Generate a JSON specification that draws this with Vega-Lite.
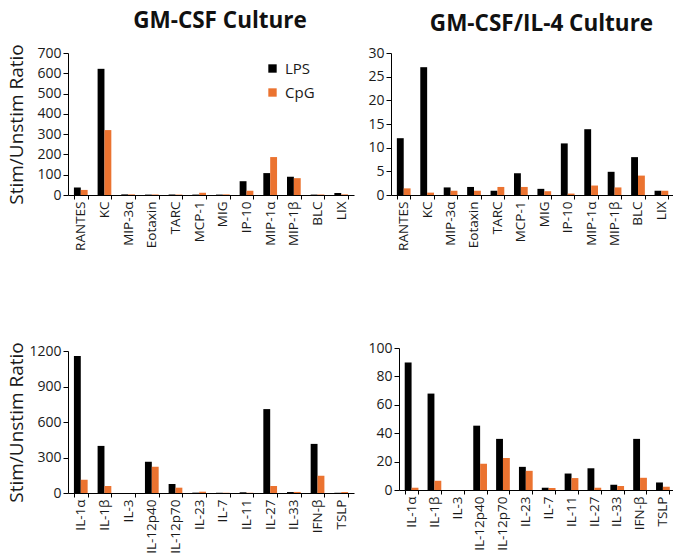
{
  "$schema": "https://vega.github.io/schema/vega-lite/v6.json",
  "background": "white",
  "padding": {"left": 6, "top": 10, "right": 0, "bottom": 0},
  "datasets": {
    "gm_chemo": [
      {"analyte": "RANTES", "stim": "LPS", "value": 37}, {"analyte": "RANTES", "stim": "CpG", "value": 25},
      {"analyte": "KC", "stim": "LPS", "value": 622}, {"analyte": "KC", "stim": "CpG", "value": 320},
      {"analyte": "MIP-3α", "stim": "LPS", "value": 3}, {"analyte": "MIP-3α", "stim": "CpG", "value": 3},
      {"analyte": "Eotaxin", "stim": "LPS", "value": 2}, {"analyte": "Eotaxin", "stim": "CpG", "value": 3},
      {"analyte": "TARC", "stim": "LPS", "value": 2}, {"analyte": "TARC", "stim": "CpG", "value": 2},
      {"analyte": "MCP-1", "stim": "LPS", "value": 2}, {"analyte": "MCP-1", "stim": "CpG", "value": 11},
      {"analyte": "MIG", "stim": "LPS", "value": 2}, {"analyte": "MIG", "stim": "CpG", "value": 3},
      {"analyte": "IP-10", "stim": "LPS", "value": 68}, {"analyte": "IP-10", "stim": "CpG", "value": 21},
      {"analyte": "MIP-1α", "stim": "LPS", "value": 108}, {"analyte": "MIP-1α", "stim": "CpG", "value": 187},
      {"analyte": "MIP-1β", "stim": "LPS", "value": 90}, {"analyte": "MIP-1β", "stim": "CpG", "value": 83},
      {"analyte": "BLC", "stim": "LPS", "value": 2}, {"analyte": "BLC", "stim": "CpG", "value": 2},
      {"analyte": "LIX", "stim": "LPS", "value": 10}, {"analyte": "LIX", "stim": "CpG", "value": 3}
    ],
    "il4_chemo": [
      {"analyte": "RANTES", "stim": "LPS", "value": 12.0}, {"analyte": "RANTES", "stim": "CpG", "value": 1.4},
      {"analyte": "KC", "stim": "LPS", "value": 27.0}, {"analyte": "KC", "stim": "CpG", "value": 0.5},
      {"analyte": "MIP-3α", "stim": "LPS", "value": 1.6}, {"analyte": "MIP-3α", "stim": "CpG", "value": 0.9},
      {"analyte": "Eotaxin", "stim": "LPS", "value": 1.7}, {"analyte": "Eotaxin", "stim": "CpG", "value": 0.9},
      {"analyte": "TARC", "stim": "LPS", "value": 0.9}, {"analyte": "TARC", "stim": "CpG", "value": 1.7},
      {"analyte": "MCP-1", "stim": "LPS", "value": 4.6}, {"analyte": "MCP-1", "stim": "CpG", "value": 1.7},
      {"analyte": "MIG", "stim": "LPS", "value": 1.3}, {"analyte": "MIG", "stim": "CpG", "value": 0.8},
      {"analyte": "IP-10", "stim": "LPS", "value": 10.9}, {"analyte": "IP-10", "stim": "CpG", "value": 0.3},
      {"analyte": "MIP-1α", "stim": "LPS", "value": 13.9}, {"analyte": "MIP-1α", "stim": "CpG", "value": 2.0},
      {"analyte": "MIP-1β", "stim": "LPS", "value": 4.9}, {"analyte": "MIP-1β", "stim": "CpG", "value": 1.6},
      {"analyte": "BLC", "stim": "LPS", "value": 8.0}, {"analyte": "BLC", "stim": "CpG", "value": 4.1},
      {"analyte": "LIX", "stim": "LPS", "value": 0.9}, {"analyte": "LIX", "stim": "CpG", "value": 0.9}
    ],
    "gm_cyto": [
      {"analyte": "IL-1α", "stim": "LPS", "value": 1158}, {"analyte": "IL-1α", "stim": "CpG", "value": 112},
      {"analyte": "IL-1β", "stim": "LPS", "value": 398}, {"analyte": "IL-1β", "stim": "CpG", "value": 59},
      {"analyte": "IL-3", "stim": "LPS", "value": 0}, {"analyte": "IL-3", "stim": "CpG", "value": 0},
      {"analyte": "IL-12p40", "stim": "LPS", "value": 264}, {"analyte": "IL-12p40", "stim": "CpG", "value": 221},
      {"analyte": "IL-12p70", "stim": "LPS", "value": 76}, {"analyte": "IL-12p70", "stim": "CpG", "value": 45},
      {"analyte": "IL-23", "stim": "LPS", "value": 3}, {"analyte": "IL-23", "stim": "CpG", "value": 11},
      {"analyte": "IL-7", "stim": "LPS", "value": 2}, {"analyte": "IL-7", "stim": "CpG", "value": 2},
      {"analyte": "IL-11", "stim": "LPS", "value": 6}, {"analyte": "IL-11", "stim": "CpG", "value": 2},
      {"analyte": "IL-27", "stim": "LPS", "value": 709}, {"analyte": "IL-27", "stim": "CpG", "value": 59},
      {"analyte": "IL-33", "stim": "LPS", "value": 8}, {"analyte": "IL-33", "stim": "CpG", "value": 9},
      {"analyte": "IFN-β", "stim": "LPS", "value": 415}, {"analyte": "IFN-β", "stim": "CpG", "value": 146},
      {"analyte": "TSLP", "stim": "LPS", "value": 2}, {"analyte": "TSLP", "stim": "CpG", "value": 8}
    ],
    "il4_cyto": [
      {"analyte": "IL-1α", "stim": "LPS", "value": 89.8}, {"analyte": "IL-1α", "stim": "CpG", "value": 1.6},
      {"analyte": "IL-1β", "stim": "LPS", "value": 67.9}, {"analyte": "IL-1β", "stim": "CpG", "value": 6.5},
      {"analyte": "IL-3", "stim": "LPS", "value": 0}, {"analyte": "IL-3", "stim": "CpG", "value": 0},
      {"analyte": "IL-12p40", "stim": "LPS", "value": 45.3}, {"analyte": "IL-12p40", "stim": "CpG", "value": 18.4},
      {"analyte": "IL-12p70", "stim": "LPS", "value": 36}, {"analyte": "IL-12p70", "stim": "CpG", "value": 22.6},
      {"analyte": "IL-23", "stim": "LPS", "value": 16.3}, {"analyte": "IL-23", "stim": "CpG", "value": 13.5},
      {"analyte": "IL-7", "stim": "LPS", "value": 1.6}, {"analyte": "IL-7", "stim": "CpG", "value": 1.4},
      {"analyte": "IL-11", "stim": "LPS", "value": 11.6}, {"analyte": "IL-11", "stim": "CpG", "value": 8.4},
      {"analyte": "IL-27", "stim": "LPS", "value": 15.3}, {"analyte": "IL-27", "stim": "CpG", "value": 1.6},
      {"analyte": "IL-33", "stim": "LPS", "value": 3.7}, {"analyte": "IL-33", "stim": "CpG", "value": 2.8},
      {"analyte": "IFN-β", "stim": "LPS", "value": 36}, {"analyte": "IFN-β", "stim": "CpG", "value": 8.6},
      {"analyte": "TSLP", "stim": "LPS", "value": 5.3}, {"analyte": "TSLP", "stim": "CpG", "value": 2.3}
    ]
  },
  "columns": 2,
  "align": "none",
  "spacing": {"row": 90, "column": 13},
  "concat": [
    {
      "data": {"name": "gm_chemo"},
      "title": {"text": "GM-CSF Culture"},
      "width": 286, "height": 142,
      "mark": {"type": "bar"},
      "encoding": {
        "x": {"field": "analyte", "type": "nominal", "sort": null, "scale": {"paddingInner": 0.42, "paddingOuter": 0.25}, "axis": {"title": null}},
        "xOffset": {"field": "stim", "type": "nominal", "sort": ["LPS", "CpG"]},
        "y": {"field": "value", "type": "quantitative", "scale": {"domain": [0, 700], "nice": false}, "axis": {"values": [0, 100, 200, 300, 400, 500, 600, 700], "format": "d", "title": "Stim/Unstim Ratio", "minExtent": 38, "maxExtent": 38}},
        "color": {"field": "stim", "type": "nominal", "sort": ["LPS", "CpG"], "scale": {"domain": ["LPS", "CpG"], "range": ["#000000", "#EB7330"]},
          "legend": {"orient": "none", "legendX": 197, "legendY": 8, "title": null, "symbolType": "square", "symbolSize": 70, "symbolStrokeWidth": 0, "labelFontSize": 15, "labelFont": "Open Sans", "labelColor": "#1a1a1a", "rowPadding": 8, "labelOffset": 5}}
      }
    },
    {
      "data": {"name": "il4_chemo"},
      "title": {"text": "GM-CSF/IL-4 Culture"},
      "width": 283, "height": 142,
      "mark": {"type": "bar"},
      "encoding": {
        "x": {"field": "analyte", "type": "nominal", "sort": null, "scale": {"paddingInner": 0.42, "paddingOuter": 0.25}, "axis": {"title": null}},
        "xOffset": {"field": "stim", "type": "nominal", "sort": ["LPS", "CpG"]},
        "y": {"field": "value", "type": "quantitative", "scale": {"domain": [0, 30], "nice": false}, "axis": {"values": [0, 5, 10, 15, 20, 25, 30], "format": "d", "title": null}},
        "color": {"field": "stim", "type": "nominal", "sort": ["LPS", "CpG"], "scale": {"domain": ["LPS", "CpG"], "range": ["#000000", "#EB7330"]}, "legend": null}
      }
    },
    {
      "data": {"name": "gm_cyto"},
      "width": 286, "height": 142,
      "mark": {"type": "bar"},
      "encoding": {
        "x": {"field": "analyte", "type": "nominal", "sort": null, "scale": {"paddingInner": 0.42, "paddingOuter": 0.25}, "axis": {"title": null}},
        "xOffset": {"field": "stim", "type": "nominal", "sort": ["LPS", "CpG"]},
        "y": {"field": "value", "type": "quantitative", "scale": {"domain": [0, 1200], "nice": false}, "axis": {"values": [0, 300, 600, 900, 1200], "format": "d", "title": "Stim/Unstim Ratio", "minExtent": 38, "maxExtent": 38}},
        "color": {"field": "stim", "type": "nominal", "sort": ["LPS", "CpG"], "scale": {"domain": ["LPS", "CpG"], "range": ["#000000", "#EB7330"]}, "legend": null}
      }
    },
    {
      "data": {"name": "il4_cyto"},
      "width": 276, "height": 142,
      "mark": {"type": "bar"},
      "encoding": {
        "x": {"field": "analyte", "type": "nominal", "sort": null, "scale": {"paddingInner": 0.42, "paddingOuter": 0.25}, "axis": {"title": null}},
        "xOffset": {"field": "stim", "type": "nominal", "sort": ["LPS", "CpG"]},
        "y": {"field": "value", "type": "quantitative", "scale": {"domain": [0, 100], "nice": false}, "axis": {"values": [0, 20, 40, 60, 80, 100], "format": "d", "title": null}},
        "color": {"field": "stim", "type": "nominal", "sort": ["LPS", "CpG"], "scale": {"domain": ["LPS", "CpG"], "range": ["#000000", "#EB7330"]}, "legend": null}
      }
    }
  ],
  "resolve": {"scale": {"color": "independent"}, "legend": {"color": "independent"}},
  "config": {
    "font": "Open Sans",
    "view": {"stroke": null},
    "axis": {"labelFont": "Open Sans", "labelFontSize": 14, "labelColor": "#1a1a1a", "domainColor": "#000000", "tickColor": "#000000", "grid": false, "tickSize": 5, "labelPadding": 2, "titleFont": "Open Sans", "titleFontSize": 19, "titleFontWeight": "normal", "titleColor": "#1a1a1a", "titlePadding": 4},
    "axisX": {"labelAngle": -90, "tickBand": "extent", "labelPadding": 2, "labelFontSize": 13.5, "tickSize": 4},
    "title": {"font": "Open Sans", "fontSize": 22.5, "fontWeight": "bold", "color": "#111111", "frame": "group", "anchor": "middle", "dx": 9, "offset": 11}
  }
}
